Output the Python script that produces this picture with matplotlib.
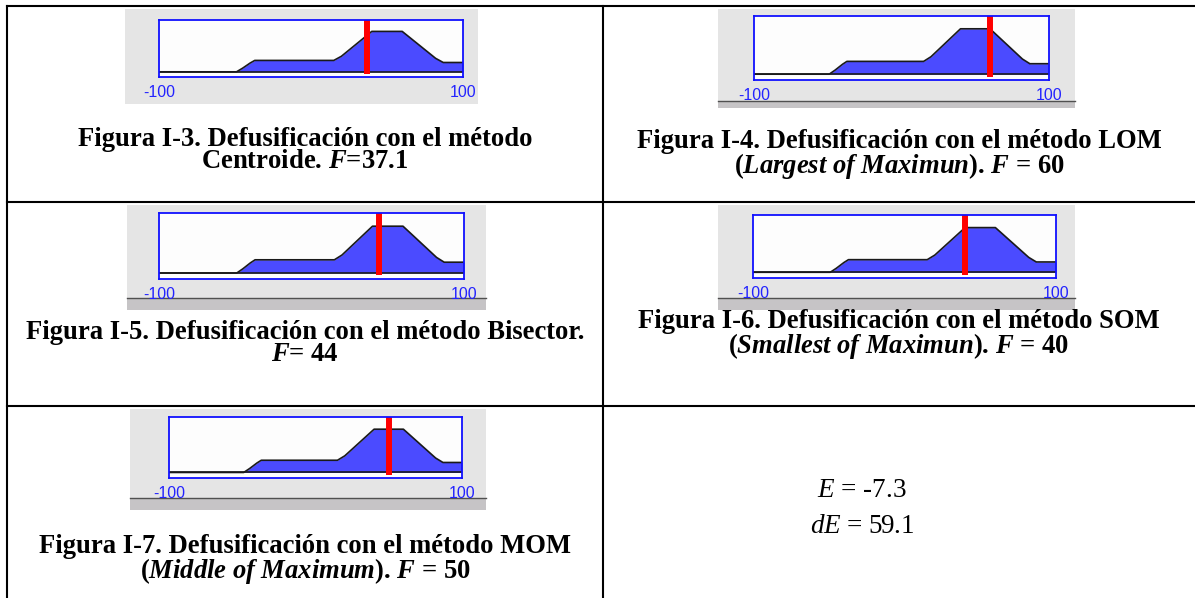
import matplotlib
matplotlib.use('Agg')
import matplotlib.pyplot as plt
from matplotlib.lines import Line2D
from matplotlib.patches import Rectangle

W, H = 1195, 598

# aggregated output fuzzy set (same inputs E=-7.3, dE=59.1 for every method)
agg_x = [-100, -49, -45, -40, -37, 15, 20, 40, 60, 82, 87, 100]
agg_mu = [0, 0, 0.07, 0.17, 0.22, 0.22, 0.30, 0.78, 0.78, 0.26, 0.18, 0.18]

# defuzzified value for each method, in the order of the figures I-3 .. I-7
methods = ['Centroide', 'LOM', 'Bisector', 'SOM', 'MOM']
crisp_F = [37.1, 60, 44, 40, 50]

tick_vals = [-100, 100]
tick_labels = ['-100', '100']

captions = [
    'Figura I-3. Defusificación con el método\n'
    r'Centroide. $\mathbfit{F}$=37.1',
    'Figura I-4. Defusificación con el método LOM\n'
    r'($\mathbfit{Largest\ of\ Maximun}$). $\mathbfit{F}$ = 60',
    'Figura I-5. Defusificación con el método Bisector.\n'
    r'$\mathbfit{F}$= 44',
    'Figura I-6. Defusificación con el método SOM\n'
    r'($\mathbfit{Smallest\ of\ Maximun}$). $\mathbfit{F}$ = 40',
    'Figura I-7. Defusificación con el método MOM\n'
    r'($\mathbfit{Middle\ of\ Maximum}$). $\mathbfit{F}$ = 50',
]
inputs_text = [r'$\mathit{E}$ = -7.3', r'$\mathit{dE}$ = 59.1']

# --- layout in pixels (left, top, right, bottom) ---
plot_boxes = [(159, 20, 463, 77), (754, 16, 1049, 80), (159, 213, 464, 279),
              (753, 215, 1056, 278), (169, 417, 462, 478)]
gray_boxes = [(125, 9, 478, 104), (718, 9, 1075, 101), (127, 205, 486, 298),
              (718, 205, 1075, 298), (130, 409, 486, 498)]
band_bottom = [None, 108, 310, 310, 510]
cap_x = [305, 899, 305, 899, 305]
cap_y = [168, 173, 361, 353, 578]   # baseline of the second caption line

plt.rcParams['mathtext.fontset'] = 'custom'
plt.rcParams['mathtext.rm'] = 'Liberation Serif'
plt.rcParams['mathtext.it'] = 'Liberation Serif:italic'
plt.rcParams['mathtext.bfit'] = 'Liberation Serif:italic:bold'
plt.rcParams['mathtext.bf'] = 'Liberation Serif:bold'


def px_rect(l, t, r, b):
    return [l / W, 1 - b / H, (r - l) / W, (b - t) / H]


fig = plt.figure(figsize=(W / 100, H / 100), dpi=100)
fig.patch.set_facecolor('white')

# table grid
grid_kw = dict(color='black', lw=1.5, transform=fig.transFigure)
for (x0, y0, x1, y1) in [(7, 6, 1195, 6), (7, 202, 1195, 202), (7, 406, 1195, 406),
                         (7, 6, 7, 598), (603, 6, 603, 598)]:
    fig.add_artist(Line2D([x0 / W, x1 / W], [1 - y0 / H, 1 - y1 / H], **grid_kw))

for i in range(5):
    gl, gt, gr, gb = gray_boxes[i]
    fig.add_artist(Rectangle((gl / W, 1 - gb / H), (gr - gl) / W, (gb - gt) / H,
                             transform=fig.transFigure, color='#e5e5e5', lw=0, zorder=-2))
    if band_bottom[i] is not None:
        bb = band_bottom[i]
        fig.add_artist(Rectangle((gl / W, 1 - bb / H), (gr - gl) / W, (bb - gb) / H,
                                 transform=fig.transFigure, color='#c6c4c6', lw=0, zorder=-2))
        fig.add_artist(Line2D([gl / W, gr / W], [1 - gb / H, 1 - gb / H], color='#505050',
                              lw=1.0, transform=fig.transFigure, zorder=-1))

    ax = fig.add_axes(px_rect(*plot_boxes[i]))
    ax.set_facecolor('#fdfdfd')
    ax.fill_between(agg_x, 0, agg_mu, color='#4b4bff', lw=0)
    ax.plot(agg_x, agg_mu, color='#1a1a1a', lw=1.2)
    ax.axhline(0, color='#1a1a1a', lw=1.2)
    ax.plot([crisp_F[i], crisp_F[i]], [-0.04, 1.1], color='#ff0000', lw=4.3,
            solid_capstyle='butt')
    ax.set_xlim(-100, 100)
    ax.set_ylim(-0.1, 1.0)
    ax.set_yticks([])
    ax.set_xticks(tick_vals, tick_labels)
    ax.tick_params(axis='x', length=0, pad=6, labelsize=11.5, labelcolor='#2323ff')
    for lab in ax.get_xticklabels():
        lab.set_family('Liberation Sans')
    for s in ax.spines.values():
        s.set_color('#1010ff')
        s.set_linewidth(1.3)

    fig.text(cap_x[i] / W, 1 - cap_y[i] / H, captions[i], ha='center', va='baseline',
             multialignment='center', linespacing=0.86,
             family='Liberation Serif', weight='bold', fontsize=19.2)

# input values in the last cell
for line, y in zip(inputs_text, (497, 533)):
    fig.text(862 / W, 1 - y / H, line, ha='center', va='baseline',
             family='Liberation Serif', fontsize=19.5)

fig.savefig('out.png', dpi=100)
